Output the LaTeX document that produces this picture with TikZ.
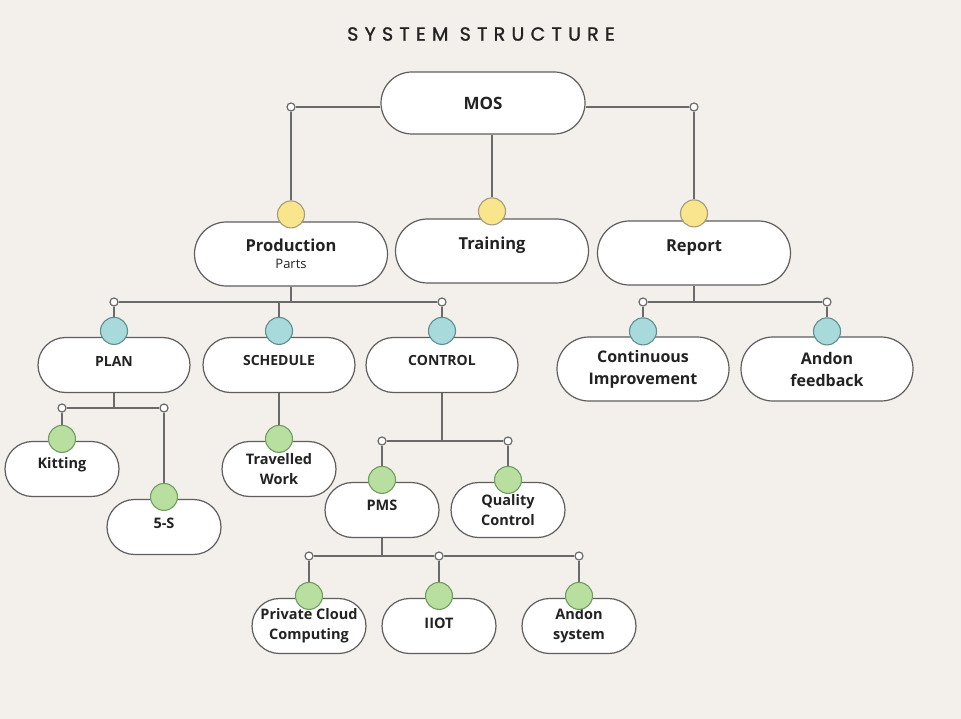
\documentclass[tikz,border=0pt]{standalone}
\usepackage{fontspec}
\setmainfont{Open Sans}
\newfontfamily\titlefont[LetterSpace=33,FakeBold=1.2]{Poppins}
\usetikzlibrary{positioning}
\usetikzlibrary{shapes.misc}
\usetikzlibrary{calc}

\definecolor{paper}{HTML}{F3EFEA}
\definecolor{ink}{HTML}{222222}
\definecolor{rim}{HTML}{5E5E5E}
\definecolor{wirecol}{HTML}{6A6A6A}
\definecolor{sun}{HTML}{F8E58C}
\definecolor{sunrim}{HTML}{A39C7E}
\definecolor{sky}{HTML}{A8DADC}
\definecolor{skyrim}{HTML}{5E8E90}
\definecolor{leaf}{HTML}{B8DFA0}
\definecolor{leafrim}{HTML}{6F9C60}

\pgfdeclarelayer{paperlayer}
\pgfdeclarelayer{wirelayer}
\pgfsetlayers{paperlayer,wirelayer,main}

\tikzset{
  pill/.style={rounded rectangle, draw=rim, line width=1.2pt, fill=white,
    inner sep=0pt, align=center, text=ink},
  lvlone/.style={pill, minimum width=193pt, minimum height=64pt,
    font=\fontsize{16.5}{18}\selectfont\bfseries},
  lvltwo/.style={pill, minimum width=152pt, minimum height=55pt,
    font=\fontsize{14}{17}\selectfont\bfseries},
  lvlwide/.style={pill, minimum width=172pt, minimum height=64pt,
    font=\fontsize{16}{22}\selectfont\bfseries},
  lvlthree/.style={pill, minimum width=114pt, minimum height=55pt,
    font=\fontsize{14.5}{20}\selectfont\bfseries},
  lift/.style={text depth=#1},
  knob/.style={circle, draw=#1rim, fill=#1, line width=1.1pt,
    minimum size=27pt, inner sep=0pt},
  joint/.style={circle, draw=wirecol, fill=white, line width=1.2pt,
    minimum size=8pt, inner sep=0pt},
  link/.style={draw=wirecol, line width=1.4pt}
}

\begin{document}
\begin{tikzpicture}[x=1pt,y=-1pt]
  \begin{pgfonlayer}{paperlayer}
    \fill[paper] (0,0) rectangle (961,719);
  \end{pgfonlayer}
  \useasboundingbox (0,0) rectangle (961,719);

  \node[text=ink, font=\titlefont\fontsize{19}{21}\selectfont] (title) at (481,34) {SYSTEM STRUCTURE};

  % top level
  \node[lvlone, minimum width=204pt, minimum height=62pt, font=\fontsize{17}{19}\selectfont\bfseries] (mos) at (483,103) {MOS};
  \node[lvlone] (prod) at (291,254) {Production\\[-1pt]{\mdseries\fontsize{13}{15}\selectfont Parts}};
  \node[lvlone, lift=16pt] (train) at (492,251) {Training};
  \node[lvlone, lift=14pt] (report) at (694,253) {Report};

  % second level
  \node[lvltwo, lift=8pt] (plan) at (114,365) {PLAN};
  \node[lvltwo, lift=10pt] (sched) at (279,365) {SCHEDULE};
  \node[lvltwo, lift=10pt] (ctrl) at (442,365) {CONTROL};
  \node[lvlwide] (ci) at (643,369) {Continuous\\Improvement};
  \node[lvlwide] (af) at (827,369) {Andon\\feedback};

  % third level
  \node[lvlthree, lift=12pt] (kit) at (62,469) {Kitting};
  \node[lvlthree, lift=8pt] (fives) at (164,527) {5-S};
  \node[lvlthree] (tw) at (279,469) {Travelled\\Work};
  \node[lvlthree, lift=10pt] (pms) at (382,510) {PMS};
  \node[lvlthree] (qc) at (508,510) {Quality\\Control};
  \node[lvlthree] (pcc) at (309,626) {Private Cloud\\Computing};
  \node[lvlthree, lift=6pt] (iiot) at (439,626) {IIOT};
  \node[lvlthree] (andon) at (579,626) {Andon\\system};

  % coloured knobs
  \node[knob=sun] (kprod) at ([yshift=7pt]prod.north) {};
  \node[knob=sun] (ktrain) at ([yshift=7pt]train.north) {};
  \node[knob=sun] (kreport) at ([yshift=7pt]report.north) {};
  \node[knob=sky] (kplan) at ([yshift=6pt]plan.north) {};
  \node[knob=sky] (ksched) at ([yshift=6pt]sched.north) {};
  \node[knob=sky] (kctrl) at ([yshift=6pt]ctrl.north) {};
  \node[knob=sky] (kci) at ([yshift=5pt]ci.north) {};
  \node[knob=sky] (kaf) at ([yshift=5pt]af.north) {};
  \node[knob=leaf] (kkit) at ([yshift=2pt]kit.north) {};
  \node[knob=leaf] (kfives) at ([yshift=2pt]fives.north) {};
  \node[knob=leaf] (ktw) at ([yshift=2pt]tw.north) {};
  \node[knob=leaf] (kpms) at ([yshift=2pt]pms.north) {};
  \node[knob=leaf] (kqc) at ([yshift=2pt]qc.north) {};
  \node[knob=leaf] (kpcc) at ([yshift=2pt]pcc.north) {};
  \node[knob=leaf] (kiiot) at ([yshift=2pt]iiot.north) {};
  \node[knob=leaf] (kandon) at ([yshift=2pt]andon.north) {};

  % joints
  \node[joint] (jl) at (291,107) {};
  \node[joint] (jr) at (694,107) {};
  \node[joint] (jp1) at (114,302) {};
  \node[joint] (jp2) at (442,302) {};
  \node[joint] (jr1) at (643,302) {};
  \node[joint] (jr2) at (827,302) {};
  \node[joint] (ja1) at (62,408) {};
  \node[joint] (ja2) at (164,408) {};
  \node[joint] (jc1) at (382,441) {};
  \node[joint] (jc2) at (508,441) {};
  \node[joint] (jm1) at (309,556) {};
  \node[joint] (jm2) at (439,556) {};
  \node[joint] (jm3) at (579,556) {};

  \begin{pgfonlayer}{wirelayer}
    \draw[link] (mos.west |- jl) -- (jl) -- (kprod);
    \draw[link] (mos.east |- jr) -- (jr) -- (kreport);
    \draw[link] (mos.south -| ktrain) -- (ktrain);
    % production branch
    \draw[link] (prod.south) -- (prod.south |- jp1);
    \draw[link] (jp1) -- (jp2);
    \draw[link] (jp1) -- (kplan);
    \draw[link] (ksched |- jp1) -- (ksched);
    \draw[link] (jp2) -- (kctrl);
    % report branch
    \draw[link] (report.south) -- (report.south |- jr1);
    \draw[link] (jr1) -- (jr2);
    \draw[link] (jr1) -- (kci);
    \draw[link] (jr2) -- (kaf);
    % plan, schedule, control
    \draw[link] (plan.south) -- (plan.south |- ja1);
    \draw[link] (ja1) -- (ja2);
    \draw[link] (ja1) -- (kkit);
    \draw[link] (ja2) -- (kfives);
    \draw[link] (sched.south) -- (ktw);
    \draw[link] (ctrl.south) -- (ctrl.south |- jc1);
    \draw[link] (jc1) -- (jc2);
    \draw[link] (jc1) -- (kpms);
    \draw[link] (jc2) -- (kqc);
    % pms
    \draw[link] (pms.south) -- (pms.south |- jm1);
    \draw[link] (jm1) -- (jm2) -- (jm3);
    \draw[link] (jm1) -- (kpcc);
    \draw[link] (jm2) -- (kiiot);
    \draw[link] (jm3) -- (kandon);
  \end{pgfonlayer}
\end{tikzpicture}
\end{document}
